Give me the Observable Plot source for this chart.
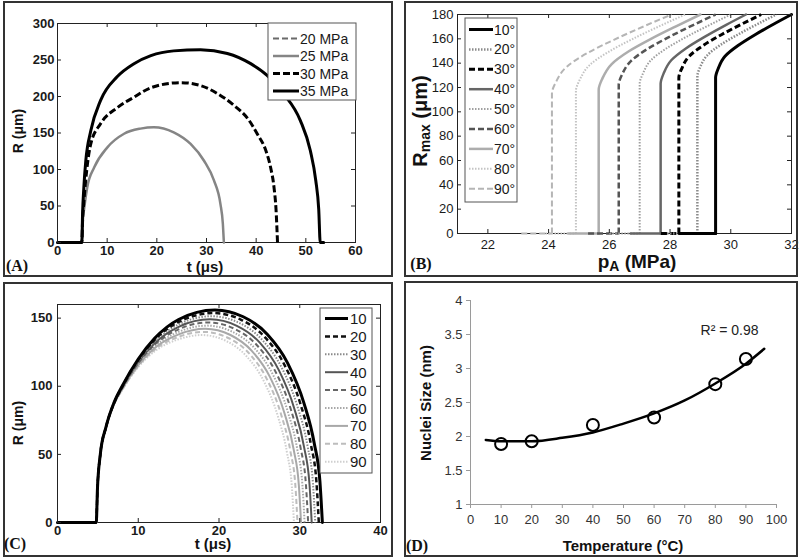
<!DOCTYPE html>
<html>
<head>
<meta charset="utf-8">
<script src="https://cdn.jsdelivr.net/npm/d3@7"></script>
<script src="https://cdn.jsdelivr.net/npm/@observablehq/plot@0.6"></script>
<style>
html,body{margin:0;padding:0;background:#fff;}
#root{position:relative;width:800px;height:559px;overflow:hidden;background:#fff;}
#root svg{position:absolute;}
</style>
</head>
<body>
<div id="root"></div>
<script>
// ================= Panel A : R(t) for different pressures =================
const aLabels = ["20 MPa", "25 MPa", "30 MPa", "35 MPa"];
const aXTicks = [0, 10, 20, 30, 40, 50, 60];
const aYTicks = [0, 50, 100, 150, 200, 250, 300];
const aT20 = [0, 5];
const aR20 = [0, 0];
const aT25 = [0, 4.9, 5.05, 5.4, 6.0, 7.4, 10, 13.4, 16.7, 19.4, 23.4, 26.8, 29.5, 31.5, 32.8, 33.3, 33.5];
const aR25 = [0, 0, 25, 48, 76, 103, 130, 149, 156, 158, 151, 135, 112, 85, 53, 25, 0];
const aT30 = [0, 4.9, 5.05, 5.3, 5.9, 6.7, 8.7, 12.1, 15.4, 18.8, 24.8, 28.8, 32.2, 35.5, 38.5, 40.2, 42, 42.9, 43.6, 44.0, 44.3];
const aR30 = [0, 0, 30, 55, 100, 135, 163, 185, 199, 212, 219, 215, 204, 188, 168, 149, 125, 103, 75, 45, 0];
const aT35 = [0, 4.9, 5.05, 5.3, 5.7, 6.7, 8.7, 12, 15.4, 18.8, 23.4, 28.8, 34.2, 38.9, 42.2, 45.5, 48.9, 50.9, 52.0, 52.6, 52.9, 53.6];
const aR35 = [0, 0, 40, 75, 112, 153, 195, 227, 245, 256, 262.5, 264, 259, 245, 229, 204, 167, 126, 85, 45, 0, 0];

// ================= Panel B : Rmax vs pA for contact angles =================
const bLabels = ["10°", "20°", "30°", "40°", "50°", "60°", "70°", "80°", "90°"];
const bXTicks = [22, 24, 26, 28, 30, 32];
const bYTicks = [0, 20, 40, 60, 80, 100, 120, 140, 160, 180];
const bBaseStart = [28.3, 27.9, 27.7, 26.7, 26.0, 25.3, 24.65, 23.9, 23.1];
const bThreshold = [29.5, 28.9, 28.29, 27.69, 27.0, 26.31, 25.65, 24.9, 24.11];
const bP10 = [29.5, 29.5, 29.59, 29.81, 30.24, 30.80, 31.42, 32.0];
const bR10 = [0, 128, 135.8, 145.7, 154.5, 163.4, 172.2, 180];
const bP20 = [28.9, 28.9, 28.99, 29.22, 29.66, 30.25, 30.9, 31.5];
const bR20 = [0, 129, 136.7, 146.3, 155, 163.7, 172.4, 180];
const bP30 = [28.29, 28.29, 28.39, 28.63, 29.09, 29.69, 30.37, 31.0];
const bR30 = [0, 128, 135.8, 145.7, 154.5, 163.4, 172.2, 180];
const bP40 = [27.69, 27.69, 27.79, 28.04, 28.52, 29.15, 29.85, 30.5];
const bR40 = [0, 123, 131.6, 142.4, 152.1, 161.8, 171.5, 180];
const bP50 = [27.0, 27.0, 27.11, 27.37, 27.88, 28.55, 29.31, 30.0];
const bR50 = [0, 123, 131.6, 142.4, 152.1, 161.8, 171.5, 180];
const bP60 = [26.31, 26.31, 26.42, 26.71, 27.25, 27.96, 28.76, 29.5];
const bR60 = [0, 122, 130.7, 141.7, 151.6, 161.4, 171.3, 180];
const bP70 = [25.65, 25.65, 25.77, 26.07, 26.63, 27.39, 28.23, 29.0];
const bR70 = [0, 118, 127.3, 139.1, 149.6, 160.2, 170.7, 180];
const bP80 = [24.9, 24.9, 25.03, 25.35, 25.96, 26.76, 27.67, 28.5];
const bR80 = [0, 117, 126.5, 138.4, 149.1, 159.8, 170.6, 180];
const bP90 = [24.11, 24.11, 24.25, 24.6, 25.27, 26.15, 27.14, 28.05];
const bR90 = [0, 115, 124.8, 137.1, 148.2, 159.2, 170.3, 180];

// ================= Panel C : R(t) for temperatures =================
const cLabels = ["10", "20", "30", "40", "50", "60", "70", "80", "90"];
const cXTicks = [0, 10, 20, 30, 40];
const cYTicks = [0, 50, 100, 150];
const cT10 = [0,4.8,4.95,5.3,6,7,8,10,12,15,19.5,23.0,26.0,28.5,30.5,31.8,32.5,32.8];
const cR10 = [0,0,25,50,70,88,100,120,135,149,156,151,138,117,88,58,30,0];
const cT20 = [0,4.8,4.95,5.3,6,7,8,10,12,15,19.3,22.74,25.68,28.14,30.10,31.38,32.07,32.36];
const cR20 = [0,0,25,50,69.9,87.8,99.6,119.3,133.8,147.2,153.7,148.8,136.0,115.3,86.7,57.2,29.5,0];
const cT30 = [0,4.8,4.95,5.3,6,7,8,10,12,15,19.1,22.47,25.36,27.77,29.70,30.96,31.63,31.92];
const cR30 = [0,0,25,50,69.9,87.6,99.3,118.5,132.6,145.4,151.4,146.6,134.0,113.6,85.4,56.3,29.1,0];
const cT40 = [0,4.8,4.95,5.3,6,7,8,10,12,15,18.9,22.21,25.05,27.41,29.30,30.53,31.20,31.48];
const cR40 = [0,0,25,50,69.8,87.4,98.9,117.8,131.4,143.6,149.1,144.3,132.0,111.8,84.1,55.5,28.6,0];
const cT50 = [0,4.8,4.95,5.3,6,7,8,10,12,15,18.7,21.95,24.73,27.05,28.91,30.11,30.76,31.04];
const cR50 = [0,0,25,50,69.8,87.3,98.5,117,130.3,141.8,146.8,142.1,129.9,110.1,82.8,54.6,28.2,0];
const cT60 = [0,4.8,4.95,5.3,6,7,8,10,12,15,18.5,21.68,24.41,26.69,28.51,29.69,30.33,30.6];
const cR60 = [0,0,25,50,69.7,87.1,98.1,116.3,129.1,139.9,144.5,139.9,127.9,108.4,81.5,53.8,27.7,0];
const cT70 = [0,4.8,4.95,5.3,6,7,8,10,12,15,18.3,21.42,24.09,26.32,28.11,29.27,29.89,30.16];
const cR70 = [0,0,25,50,69.6,86.9,97.8,115.5,127.9,138.1,142.2,137.6,125.8,106.7,80.2,52.9,27.3,0];
const cT80 = [0,4.8,4.95,5.3,6,7,8,10,12,15,18.1,21.15,23.78,25.96,27.71,28.85,29.46,29.72];
const cR80 = [0,0,25,50,69.6,86.7,97.4,114.8,126.7,136.3,139.9,135.4,123.8,104.9,78.9,52.0,26.9,0];
const cT90 = [0,4.8,4.95,5.3,6,7,8,10,12,15,17.9,20.89,23.46,25.6,27.31,28.42,29.02,29.28];
const cR90 = [0,0,25,50,69.5,86.5,97,114,125.5,134.5,137.6,133.2,121.7,103.2,77.6,51.2,26.5,0];

// ================= Panel D : nuclei size vs temperature =================
const dXTicks = [0, 10, 20, 30, 40, 50, 60, 70, 80, 90, 100];
const dYTicks = [1, 1.5, 2, 2.5, 3, 3.5, 4];
const dTemp = [10, 20, 40, 60, 80, 90];
const dSize = [1.89, 1.93, 2.17, 2.28, 2.77, 3.14];
const dFitT = [5, 10, 20, 30, 40, 50, 60, 70, 80, 90, 96];
const dFitS = [1.95, 1.93, 1.93, 1.98, 2.06, 2.19, 2.34, 2.53, 2.78, 3.07, 3.29];
const dR2 = "R² = 0.98";

// ---------------- styles (separate from data) ----------------
const aStyles = [
  {stroke: "#6a6a6a", width: 2, dash: "6,3"},
  {stroke: "#858585", width: 2.5, dash: null},
  {stroke: "#000", width: 3, dash: "7,3"},
  {stroke: "#000", width: 3, dash: null}
];
const bStyles = [
  {stroke: "#000", width: 3, dash: null},
  {stroke: "#8a8a8a", width: 2.5, dash: "1.5,1.5"},
  {stroke: "#000", width: 3, dash: "6,3"},
  {stroke: "#666", width: 2.5, dash: null},
  {stroke: "#a0a0a0", width: 2, dash: "1.5,1.5"},
  {stroke: "#555", width: 2.5, dash: "6,3"},
  {stroke: "#adadad", width: 2.5, dash: null},
  {stroke: "#c4c4c4", width: 2, dash: "1.5,1.5"},
  {stroke: "#b5b5b5", width: 2, dash: "6,3"}
];
const cStyles = [
  {stroke: "#000", width: 3, dash: null},
  {stroke: "#111", width: 2.5, dash: "5,3"},
  {stroke: "#8a8a8a", width: 2, dash: "1.5,1.5"},
  {stroke: "#555", width: 2, dash: null},
  {stroke: "#666", width: 2, dash: "5,3"},
  {stroke: "#a8a8a8", width: 2, dash: "1.5,1.5"},
  {stroke: "#a8a8a8", width: 2, dash: null},
  {stroke: "#bdbdbd", width: 2, dash: "5,3"},
  {stroke: "#cfcfcf", width: 2, dash: "1.5,1.5"}
];

const zip = (xs, ys) => xs.map((x, i) => ({x, y: ys[i]}));
const FONT = '"Liberation Sans", Arial, Helvetica, sans-serif';
const root = document.getElementById("root");

function lineMark(data, st, curve) {
  return Plot.line(data, {x: "x", y: "y", stroke: st.stroke, strokeWidth: st.width,
    strokeDasharray: st.dash || undefined, strokeLinecap: st.dash ? "butt" : "round", curve});
}

function matlabPlot(o) {
  const W = o.width - o.ml - o.mr, H = o.height - o.mt - o.mb, tk = 4;
  const p = Plot.plot({
    width: o.width, height: o.height,
    marginLeft: o.ml, marginRight: o.mr, marginTop: o.mt, marginBottom: o.mb,
    x: {domain: o.xDomain, label: null},
    y: {domain: o.yDomain, label: null},
    style: {fontFamily: FONT, fontSize: o.fontSize + "px", fontWeight: o.fontWeight, color: "#1a1a1a", background: "none", overflow: "visible"},
    marks: [
      Plot.frame({stroke: "#222", strokeWidth: 1}),
      ...o.marks,
      Plot.tickX(o.xTicks, {x: d => d, insetTop: H - tk, stroke: "#222"}),
      Plot.tickX(o.xTicks, {x: d => d, insetBottom: H - tk, stroke: "#222"}),
      Plot.tickY(o.yTicks, {y: d => d, insetRight: W - tk, stroke: "#222"}),
      Plot.tickY(o.yTicks, {y: d => d, insetLeft: W - tk, stroke: "#222"}),
      Plot.axisX(o.xTicks, {tickSize: 0, tickPadding: o.xPad, label: null, tickFormat: d => String(d)}),
      Plot.axisY(o.yTicks, {tickSize: 0, tickPadding: o.yPad, label: null, tickFormat: d => String(d)})
    ]
  });
  p.style.left = o.left + "px";
  p.style.top = o.top + "px";
  root.appendChild(p);
}

// ---- Panel A ----
const aData = [zip(aT20, aR20), zip(aT25, aR25), zip(aT30, aR30), zip(aT35, aR35)];
matlabPlot({
  left: 0, top: 0, width: 400, height: 280, ml: 57, mr: 45, mt: 23, mb: 38,
  xDomain: [0, 60], yDomain: [0, 300], xTicks: aXTicks, yTicks: aYTicks,
  fontSize: 13, fontWeight: "bold", xPad: 3, yPad: 3,
  marks: aData.map((d, i) => lineMark(d, aStyles[i], "monotone-x"))
});

// ---- Panel B ----
const bCurves = [zip(bP10,bR10), zip(bP20,bR20), zip(bP30,bR30), zip(bP40,bR40), zip(bP50,bR50),
                 zip(bP60,bR60), zip(bP70,bR70), zip(bP80,bR80), zip(bP90,bR90)];
const bMarks = [];
for (let i = bCurves.length - 1; i >= 0; i--) {
  bMarks.push(lineMark([{x: bBaseStart[i], y: 0}, {x: bThreshold[i], y: 0}], bStyles[i], "linear"));
  bMarks.push(lineMark(bCurves[i], bStyles[i], "monotone-y"));
}
matlabPlot({
  left: 400, top: 0, width: 400, height: 280, ml: 57, mr: 9, mt: 14, mb: 47,
  xDomain: [21, 32], yDomain: [0, 180], xTicks: bXTicks, yTicks: bYTicks,
  fontSize: 13, fontWeight: "normal", xPad: 6, yPad: 4,
  marks: bMarks
});

// ---- Panel C ----
const cCurves = [zip(cT10,cR10), zip(cT20,cR20), zip(cT30,cR30), zip(cT40,cR40), zip(cT50,cR50),
                 zip(cT60,cR60), zip(cT70,cR70), zip(cT80,cR80), zip(cT90,cR90)];
const cMarks = [];
for (let i = cCurves.length - 1; i >= 0; i--) cMarks.push(lineMark(cCurves[i], cStyles[i], "monotone-x"));
matlabPlot({
  left: 0, top: 280, width: 400, height: 279, ml: 57, mr: 20, mt: 24, mb: 37,
  xDomain: [0, 40], yDomain: [0, 160], xTicks: cXTicks, yTicks: cYTicks,
  fontSize: 13, fontWeight: "bold", xPad: 3, yPad: 5,
  marks: cMarks
});

// ---- Panel D ----
const dPoints = zip(dTemp, dSize);
const dFit = zip(dFitT, dFitS);
const pD = Plot.plot({
  width: 400, height: 279, marginLeft: 70, marginRight: 24, marginTop: 20, marginBottom: 55,
  x: {domain: [0, 100], label: null},
  y: {domain: [1, 4], label: null},
  style: {fontFamily: FONT, fontSize: "13px", color: "#333", background: "none", overflow: "visible"},
  marks: [
    Plot.ruleY([1], {stroke: "#9a9a9a"}),
    Plot.ruleX([0], {stroke: "#9a9a9a"}),
    Plot.axisX(dXTicks, {tickSize: 4, tickPadding: 6, stroke: "#9a9a9a", label: null, tickFormat: d => String(d)}),
    Plot.axisY(dYTicks, {tickSize: 4, tickPadding: 4, stroke: "#9a9a9a", label: null, tickFormat: d => String(d)}),
    Plot.line(dFit, {x: "x", y: "y", curve: "monotone-x", stroke: "#000", strokeWidth: 2.5}),
    Plot.dot(dPoints, {x: "x", y: "y", r: 6, stroke: "#000", strokeWidth: 2, fill: "none"}),
    Plot.text([dR2], {frameAnchor: "top-right", dx: -18, dy: 30, lineAnchor: "middle", textAnchor: "end", fontSize: 14, fill: "#222"})
  ]
});
pD.style.left = "400px";
pD.style.top = "280px";
root.appendChild(pD);

// ---------------- overlay: frames, legends, labels ----------------
const ov = d3.select(root).append("svg")
  .attr("width", 800).attr("height", 559)
  .style("left", "0px").style("top", "0px")
  .style("pointer-events", "none")
  .attr("font-family", FONT);

const boxes = [[4, 2, 392, 276], [405, 2, 797, 276], [4, 283, 392, 556], [405, 282, 797, 556]];
boxes.forEach(([x0, y0, x1, y1]) => ov.append("rect").attr("x", x0).attr("y", y0)
  .attr("width", x1 - x0).attr("height", y1 - y0).attr("fill", "none").attr("stroke", "#333").attr("stroke-width", 2));

function legend(o) {
  const g = ov.append("g");
  g.append("rect").attr("x", o.x).attr("y", o.y).attr("width", o.w).attr("height", o.h)
    .attr("fill", "#fff").attr("stroke", "#555").attr("stroke-width", 1);
  o.labels.forEach((lab, i) => {
    const yy = o.rowY0 + i * o.rowDy, st = o.styles[i];
    g.append("line").attr("x1", o.lx0).attr("x2", o.lx1).attr("y1", yy).attr("y2", yy)
      .attr("stroke", st.stroke).attr("stroke-width", st.width)
      .attr("stroke-dasharray", st.dash);
    g.append("text").attr("x", o.tx).attr("y", yy).attr("dominant-baseline", "central")
      .attr("font-size", o.fs).attr("fill", "#1a1a1a").text(lab);
  });
}
legend({x: 268, y: 23, w: 88, h: 77, rowY0: 38.5, rowDy: 17.5, lx0: 273, lx1: 299, tx: 300, fs: 14, labels: aLabels, styles: aStyles});
legend({x: 465, y: 18, w: 52, h: 184, rowY0: 29.5, rowDy: 19.9, lx0: 469, lx1: 493, tx: 494, fs: 14, labels: bLabels, styles: bStyles});
legend({x: 320, y: 308, w: 52, h: 165, rowY0: 318.5, rowDy: 17.9, lx0: 325, lx1: 348, tx: 350, fs: 15, labels: cLabels, styles: cStyles});

function label(x, y, txt, fs, rot, weight) {
  const t = ov.append("text").attr("transform", `translate(${x},${y}) rotate(${rot || 0})`)
    .attr("text-anchor", "middle").attr("dominant-baseline", "central")
    .attr("font-size", fs).attr("font-weight", weight || "bold").attr("fill", "#111");
  if (typeof txt === "string") t.text(txt);
  else txt(t);
  return t;
}
label(18, 131, "R (μm)", 14, -90);
label(205, 266, "t (μs)", 15, 0);
label(420, 121, t => {
  t.append("tspan").text("R");
  t.append("tspan").attr("dy", 5).attr("font-size", 14).text("max");
  t.append("tspan").attr("dy", -5).text(" (μm)");
}, 20, -90);
label(637, 261, t => {
  t.append("tspan").text("p");
  t.append("tspan").attr("dy", 5).attr("font-size", 14).text("A");
  t.append("tspan").attr("dy", -5).text(" (MPa)");
}, 19, 0);
label(18, 423, "R (μm)", 14, -90);
label(213, 543, "t (μs)", 15, 0);
label(425, 403, "Nuclei Size (nm)", 15, -90);
label(623, 545, "Temperature (°C)", 15, 0);

const serif = '"Liberation Serif", "Times New Roman", serif';
[["(A)", 17, 265], ["(B)", 421, 263], ["(C)", 15, 543], ["(D)", 417, 545]].forEach(([s, x, y]) =>
  ov.append("text").attr("x", x).attr("y", y).attr("text-anchor", "middle").attr("dominant-baseline", "central")
    .attr("font-family", serif).attr("font-weight", "bold").attr("font-size", 16).attr("fill", "#111").text(s));
</script>
</body>
</html>
